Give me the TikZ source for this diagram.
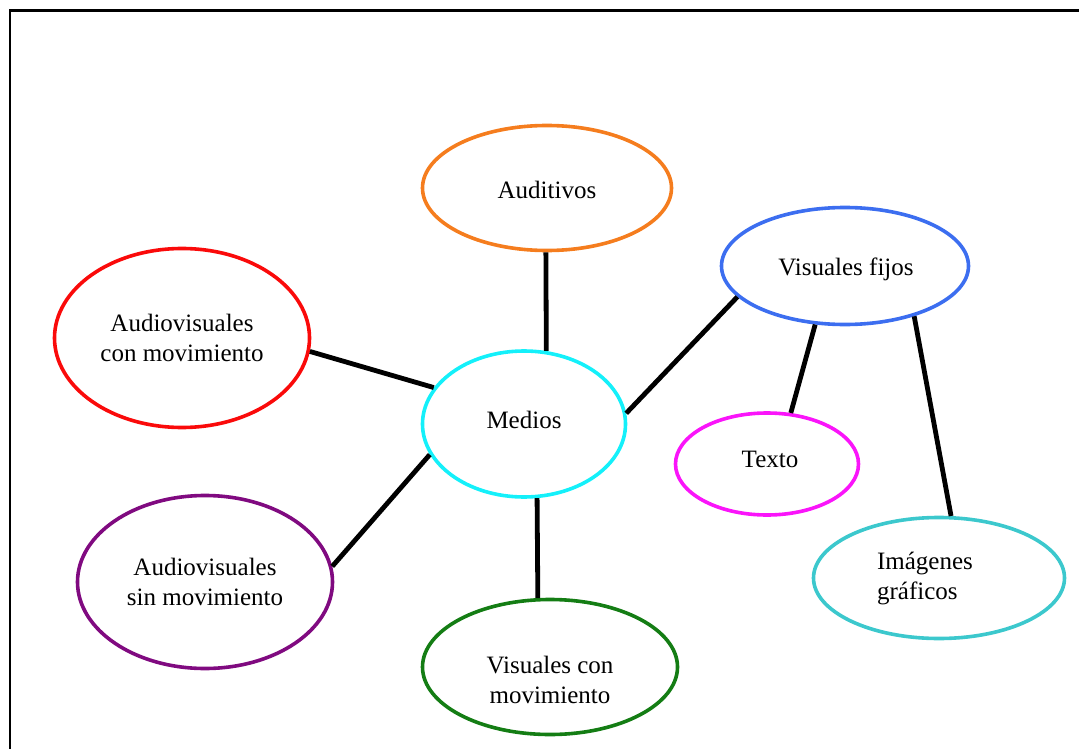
\documentclass[tikz,border=0pt]{standalone}
\usepackage{fontspec}
\setmainfont{Liberation Serif}
\usetikzlibrary{shapes.geometric}
\definecolor{cOrange}{RGB}{245,125,30}
\definecolor{cBlue}{RGB}{60,110,240}
\definecolor{cRed}{RGB}{250,10,10}
\definecolor{cCyan}{RGB}{20,240,250}
\definecolor{cMagenta}{RGB}{250,20,250}
\definecolor{cTeal}{RGB}{60,200,205}
\definecolor{cPurple}{RGB}{128,10,128}
\definecolor{cGreen}{RGB}{20,125,20}
\tikzset{
  bubble/.style={ellipse, draw, line width=3.6pt, inner sep=0pt, align=center,
    font=\fontsize{25}{30}\selectfont},
  lbl/.style={inner sep=0pt, font=\fontsize{25}{30}\selectfont},
  link/.style={line width=4.8pt, black}
}
\begin{document}
\begin{tikzpicture}[x=1pt,y=-1pt]
  \useasboundingbox (0,0) rectangle (1079,749);
  % frame (top and left edges)
  \coordinate (ftl) at (10,10.5);
  \coordinate (ftr) at (1079,10.5);
  \coordinate (fbl) at (10,749);
  \draw[line width=2.6pt] (fbl) -- (ftl) -- (ftr);

  % topic bubbles
  \node[bubble, draw=cOrange, minimum width=249pt, minimum height=125pt] (aud) at (547,188) {};
  \node[lbl] (audt) at (547,190) {Auditivos};
  \node[bubble, draw=cBlue, minimum width=247pt, minimum height=117pt] (vf) at (845,266) {};
  \node[lbl] (vft) at (846,269) {Visuales fijos};
  \node[bubble, draw=cRed, minimum width=255pt, minimum height=179pt] (avc) at (182,338) {Audiovisuales\\con movimiento};
  \node[bubble, draw=cCyan, minimum width=203pt, minimum height=146pt] (med) at (524,424) {};
  \node[lbl] (medt) at (524,420) {Medios};
  \node[bubble, draw=cMagenta, minimum width=183pt, minimum height=102pt] (txt) at (767,464) {};
  \node[lbl] (txtt) at (770,459) {Texto};
  \node[bubble, draw=cTeal, minimum width=251pt, minimum height=121pt] (img) at (939,578) {};
  \node[lbl, align=left] (imgt) at (925,579) {Imágenes\\gráficos};
  \node[bubble, draw=cPurple, minimum width=255pt, minimum height=173pt] (avs) at (205,582) {Audiovisuales\\sin movimiento};
  \node[bubble, draw=cGreen, minimum width=255pt, minimum height=135pt] (vc) at (550,667) {};
  \node[lbl, align=center] (vct) at (550,680) {Visuales con\\movimiento};

  % connectors
  \draw[link] (aud.-91.8) -- (med.73.8);
  \draw[link] (avc.-6.2) -- (med.158.7);
  \draw[link] (avs.7.1) -- (med.-162.9);
  \draw[link] (med.-80.3) -- (vc.100.7);
  \draw[link] (med.6.6) -- (vf.-164);
  \draw[link] (vf.-117.6) -- (txt.65.7);
  \draw[link] (vf.-36.9) -- (img.79.9);
\end{tikzpicture}
\end{document}
